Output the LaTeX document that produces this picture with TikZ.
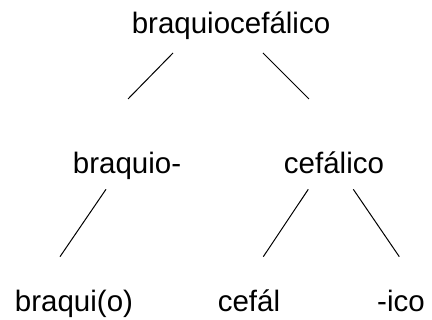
\documentclass[tikz,border=0pt]{standalone}
\usepackage{fontspec}
\setmainfont{Liberation Sans}
\begin{document}
\begin{tikzpicture}[x=1pt,y=1pt,
  word/.style={anchor=base,inner sep=0pt,font=\fontsize{29.5}{34}\selectfont},
  branch/.style={line width=1pt,black}]
\useasboundingbox (0,0) rectangle (432,320);
% words of the tree
\node[word] (root) at (231,286.7) {braquiocefálico};
\node[word] (braquio) at (127,146) {braquio-};
\node[word] (cefalico) at (334,146) {cefálico};
\node[word] (braqui) at (74,8.3) {braqui(o)};
\node[word] (cefal) at (249,8.3) {cefál};
\node[word] (ico) at (401,8.3) {-ico};
% branch end points
\coordinate (r1) at (173,267);
\coordinate (r2) at (263,267);
\coordinate (b1) at (128,221);
\coordinate (c1) at (309,221);
\coordinate (b2) at (106,130.7);
\coordinate (c2) at (308.3,130.7);
\coordinate (c3) at (353.3,130.7);
\coordinate (q1) at (60,63.3);
\coordinate (q2) at (263.3,63.3);
\coordinate (q3) at (399.3,63.3);
% branches
\draw[branch] (r1) -- (b1);
\draw[branch] (r2) -- (c1);
\draw[branch] (b2) -- (q1);
\draw[branch] (c2) -- (q2);
\draw[branch] (c3) -- (q3);
\end{tikzpicture}
\end{document}
